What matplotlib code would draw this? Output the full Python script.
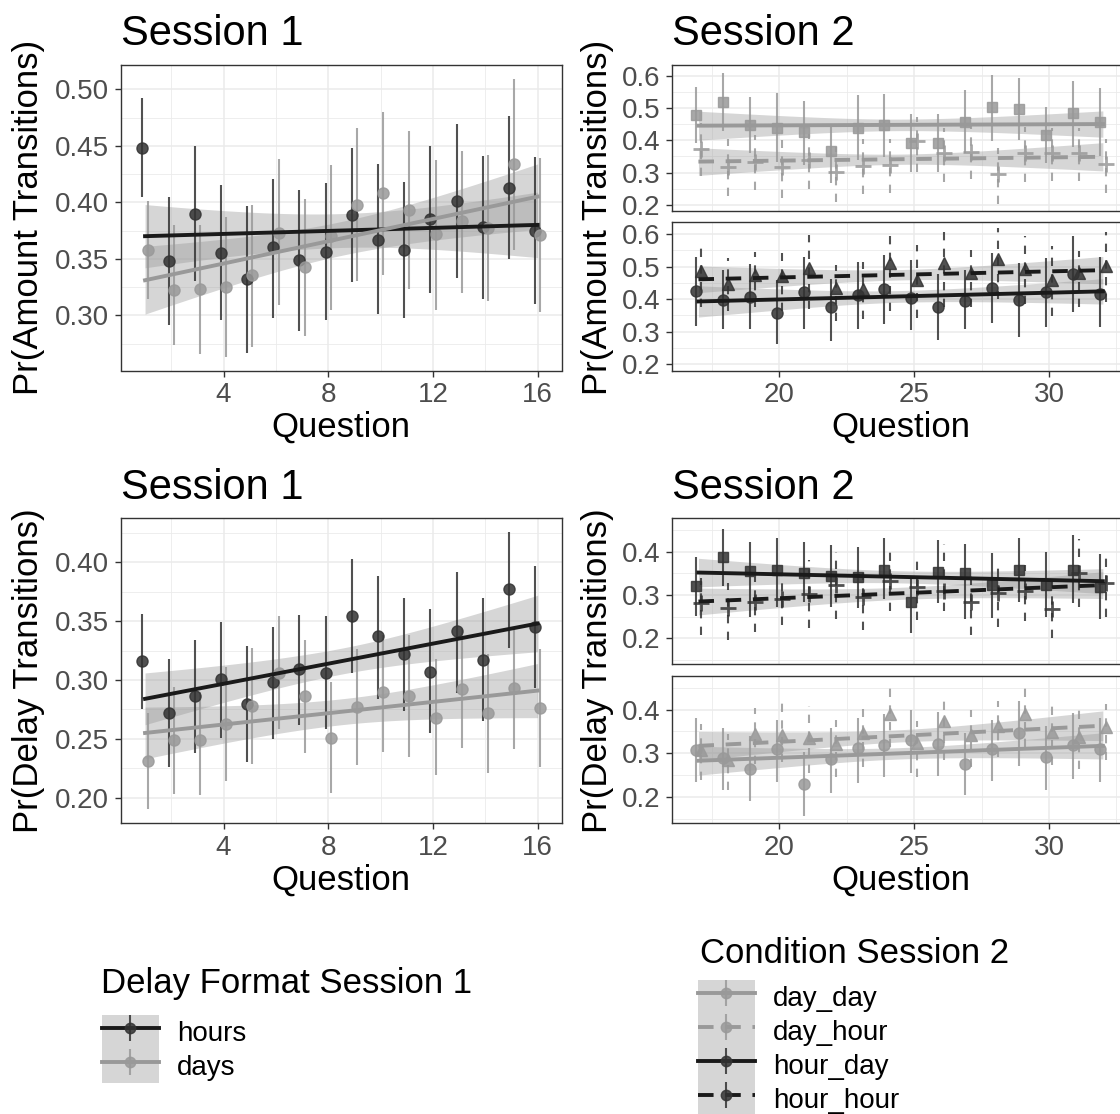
import numpy as np
import matplotlib
matplotlib.use('Agg')
import matplotlib.pyplot as plt
from matplotlib.lines import Line2D
from matplotlib.patches import Patch
from matplotlib.legend_handler import HandlerTuple
from matplotlib.ticker import MultipleLocator, FormatStrFormatter

plt.rcParams['font.family'] = ['Liberation Sans', 'DejaVu Sans']

# ---- data ----
q_s1 = [1, 2, 3, 4, 5, 6, 7, 8, 9, 10, 11, 12, 13, 14, 15, 16]
q_s2 = [17, 18, 19, 20, 21, 22, 23, 24, 25, 26, 27, 28, 29, 30, 31, 32]

# Session 1, amount transitions
amt1_hours = [0.448, 0.348, 0.390, 0.355, 0.332, 0.360, 0.349, 0.356, 0.389, 0.367, 0.358, 0.385, 0.401, 0.378, 0.413, 0.375]
amt1_hours_hi = [0.492, 0.405, 0.450, 0.415, 0.397, 0.421, 0.411, 0.417, 0.448, 0.434, 0.418, 0.450, 0.469, 0.441, 0.476, 0.440]
amt1_hours_lo = [0.405, 0.291, 0.330, 0.296, 0.267, 0.298, 0.286, 0.296, 0.329, 0.301, 0.298, 0.320, 0.333, 0.314, 0.350, 0.310]
amt1_days = [0.358, 0.322, 0.323, 0.325, 0.336, 0.373, 0.343, 0.370, 0.398, 0.408, 0.393, 0.372, 0.383, 0.377, 0.434, 0.371]
amt1_days_hi = [0.401, 0.380, 0.380, 0.387, 0.398, 0.438, 0.403, 0.433, 0.466, 0.480, 0.463, 0.437, 0.445, 0.442, 0.509, 0.439]
amt1_days_lo = [0.314, 0.274, 0.266, 0.263, 0.272, 0.309, 0.282, 0.305, 0.330, 0.336, 0.323, 0.305, 0.320, 0.313, 0.358, 0.303]
amt1_hours_fit = [0.370, 0.380]
amt1_hours_band = [0.028, 0.015, 0.029]
amt1_days_fit = [0.331, 0.405]
amt1_days_band = [0.030, 0.015, 0.029]

# Session 1, delay transitions
del1_hours = [0.316, 0.272, 0.286, 0.301, 0.280, 0.298, 0.309, 0.306, 0.354, 0.337, 0.322, 0.307, 0.342, 0.317, 0.377, 0.345]
del1_hours_hi = [0.356, 0.318, 0.334, 0.349, 0.329, 0.345, 0.355, 0.354, 0.403, 0.388, 0.370, 0.360, 0.392, 0.370, 0.426, 0.397]
del1_hours_lo = [0.275, 0.226, 0.238, 0.251, 0.230, 0.250, 0.262, 0.258, 0.306, 0.284, 0.274, 0.255, 0.289, 0.265, 0.327, 0.293]
del1_days = [0.231, 0.249, 0.249, 0.263, 0.278, 0.306, 0.286, 0.251, 0.277, 0.290, 0.286, 0.268, 0.292, 0.272, 0.293, 0.276]
del1_days_hi = [0.272, 0.294, 0.290, 0.311, 0.327, 0.354, 0.334, 0.298, 0.326, 0.338, 0.338, 0.318, 0.343, 0.322, 0.343, 0.326]
del1_days_lo = [0.190, 0.203, 0.202, 0.214, 0.229, 0.258, 0.238, 0.204, 0.228, 0.239, 0.235, 0.219, 0.242, 0.221, 0.241, 0.226]
del1_hours_fit = [0.284, 0.348]
del1_hours_band = [0.022, 0.011, 0.024]
del1_days_fit = [0.255, 0.291]
del1_days_band = [0.022, 0.011, 0.023]

# Session 2, amount transitions
amt2_dd = [0.479, 0.520, 0.448, 0.440, 0.427, 0.368, 0.440, 0.448, 0.393, 0.393, 0.458, 0.503, 0.498, 0.417, 0.486, 0.458]
amt2_dd_hi = [0.567, 0.611, 0.536, 0.549, 0.522, 0.442, 0.543, 0.546, 0.482, 0.482, 0.556, 0.604, 0.593, 0.503, 0.584, 0.562]
amt2_dd_lo = [0.391, 0.429, 0.362, 0.334, 0.323, 0.266, 0.339, 0.347, 0.303, 0.303, 0.360, 0.399, 0.401, 0.329, 0.380, 0.351]
amt2_dh = [0.373, 0.318, 0.334, 0.316, 0.339, 0.301, 0.320, 0.323, 0.399, 0.360, 0.365, 0.295, 0.360, 0.362, 0.362, 0.326]
amt2_dh_hi = [0.455, 0.403, 0.418, 0.400, 0.420, 0.380, 0.403, 0.405, 0.474, 0.440, 0.445, 0.375, 0.442, 0.440, 0.440, 0.405]
amt2_dh_lo = [0.290, 0.228, 0.246, 0.220, 0.250, 0.209, 0.232, 0.235, 0.303, 0.270, 0.280, 0.201, 0.270, 0.275, 0.275, 0.235]
amt2_hd = [0.424, 0.397, 0.408, 0.359, 0.421, 0.375, 0.414, 0.432, 0.404, 0.375, 0.395, 0.435, 0.397, 0.421, 0.476, 0.416]
amt2_hd_hi = [0.528, 0.489, 0.507, 0.458, 0.530, 0.463, 0.515, 0.536, 0.520, 0.478, 0.489, 0.541, 0.510, 0.525, 0.593, 0.530]
amt2_hd_lo = [0.319, 0.307, 0.307, 0.262, 0.307, 0.273, 0.309, 0.323, 0.304, 0.274, 0.307, 0.328, 0.284, 0.314, 0.362, 0.315]
amt2_hh = [0.487, 0.447, 0.473, 0.470, 0.497, 0.435, 0.432, 0.512, 0.460, 0.512, 0.481, 0.522, 0.494, 0.460, 0.481, 0.501]
amt2_hh_hi = [0.567, 0.525, 0.546, 0.541, 0.598, 0.504, 0.515, 0.608, 0.567, 0.611, 0.551, 0.619, 0.593, 0.562, 0.549, 0.605]
amt2_hh_lo = [0.375, 0.364, 0.375, 0.364, 0.369, 0.333, 0.338, 0.364, 0.343, 0.377, 0.375, 0.401, 0.385, 0.349, 0.375, 0.390]
amt2_dd_fit, amt2_dd_band = [0.446, 0.451], [0.045, 0.018, 0.041]
amt2_dh_fit, amt2_dh_band = [0.334, 0.349], [0.043, 0.016, 0.044]
amt2_hd_fit, amt2_hd_band = [0.393, 0.424], [0.048, 0.018, 0.039]
amt2_hh_fit, amt2_hh_band = [0.461, 0.489], [0.041, 0.016, 0.042]

# Session 2, delay transitions
del2_hd = [0.321, 0.387, 0.356, 0.359, 0.352, 0.344, 0.341, 0.359, 0.285, 0.354, 0.350, 0.323, 0.358, 0.323, 0.359, 0.318]
del2_hd_hi = [0.387, 0.452, 0.423, 0.431, 0.423, 0.415, 0.412, 0.433, 0.342, 0.427, 0.419, 0.398, 0.431, 0.400, 0.439, 0.396]
del2_hd_lo = [0.252, 0.320, 0.249, 0.272, 0.285, 0.273, 0.269, 0.290, 0.212, 0.282, 0.244, 0.246, 0.285, 0.249, 0.282, 0.244]
del2_hh = [0.282, 0.269, 0.285, 0.290, 0.302, 0.323, 0.295, 0.332, 0.318, 0.310, 0.285, 0.304, 0.310, 0.267, 0.350, 0.327]
del2_hh_hi = [0.339, 0.327, 0.342, 0.342, 0.381, 0.400, 0.350, 0.405, 0.396, 0.419, 0.354, 0.377, 0.369, 0.331, 0.429, 0.400]
del2_hh_lo = [0.208, 0.196, 0.215, 0.231, 0.223, 0.244, 0.218, 0.262, 0.242, 0.262, 0.208, 0.227, 0.239, 0.200, 0.273, 0.250]
del2_dd = [0.308, 0.289, 0.265, 0.309, 0.229, 0.286, 0.312, 0.319, 0.331, 0.322, 0.275, 0.309, 0.346, 0.291, 0.319, 0.310]
del2_dd_hi = [0.381, 0.358, 0.339, 0.377, 0.302, 0.358, 0.381, 0.391, 0.400, 0.394, 0.346, 0.377, 0.419, 0.363, 0.392, 0.381]
del2_dd_lo = [0.235, 0.217, 0.191, 0.235, 0.156, 0.209, 0.232, 0.246, 0.254, 0.248, 0.204, 0.237, 0.272, 0.215, 0.242, 0.235]
del2_dh = [0.308, 0.285, 0.345, 0.342, 0.335, 0.322, 0.346, 0.391, 0.323, 0.373, 0.342, 0.363, 0.389, 0.348, 0.337, 0.360]
del2_dh_hi = [0.368, 0.345, 0.404, 0.419, 0.408, 0.377, 0.402, 0.463, 0.375, 0.429, 0.399, 0.419, 0.462, 0.419, 0.412, 0.412]
del2_dh_lo = [0.239, 0.215, 0.275, 0.281, 0.254, 0.246, 0.268, 0.315, 0.246, 0.285, 0.269, 0.292, 0.315, 0.273, 0.265, 0.285]
del2_hd_fit, del2_hd_band = [0.352, 0.332], [0.033, 0.014, 0.029]
del2_hh_fit, del2_hh_band = [0.285, 0.323], [0.031, 0.014, 0.031]
del2_dd_fit, del2_dd_band = [0.283, 0.317], [0.033, 0.013, 0.030]
del2_dh_fit, del2_dh_band = [0.317, 0.363], [0.033, 0.014, 0.034]

legend1_labels = ['hours', 'days']
legend2_labels = ['day_day', 'day_hour', 'hour_day', 'hour_hour']

# ---- style ----
W, H = 1120, 1114
DARK = '#333333'
LIGHT = '#999999'
LINE_DARK = '#1a1a1a'
LINE_LIGHT = '#999999'
RIBBON = '#999999'
BAR_DASH = (0, (4, 4))
FIT_DASH = (0, (4, 3))
FIT_LW = 2.8
DODGE = 0.1

fig = plt.figure(figsize=(W / 100, H / 100), dpi=100)


def panel(l, t, r, b):
    return fig.add_axes([l / W, 1 - b / H, (r - l) / W, (b - t) / H])


def style(ax, xlim, ylim, xmaj, ymaj, yfmt, xlabels=True):
    ax.set_xlim(*xlim)
    ax.set_ylim(*ylim)
    ax.xaxis.set_major_locator(MultipleLocator(xmaj))
    ax.xaxis.set_minor_locator(MultipleLocator(xmaj / 2))
    ax.yaxis.set_major_locator(MultipleLocator(ymaj))
    ax.yaxis.set_minor_locator(MultipleLocator(ymaj / 2))
    ax.yaxis.set_major_formatter(FormatStrFormatter(yfmt))
    ax.set_axisbelow(True)
    ax.grid(True, which='major', color='#ebebeb', lw=1.1)
    ax.grid(True, which='minor', color='#ebebeb', lw=0.6)
    for s in ax.spines.values():
        s.set_color('#333333')
        s.set_linewidth(1.0)
    ax.tick_params(which='major', length=4.5, width=1, color='#333333',
                   labelcolor='#4d4d4d', labelsize=20, pad=4)
    ax.tick_params(which='minor', length=0)
    if xlabels:
        ax.set_xlabel('Question', fontsize=25, labelpad=2)
    else:
        ax.tick_params(axis='x', which='both', length=0, labelbottom=False)


def pointrange(ax, x, mean, lo, hi, color, marker, ms, bar_ls='solid'):
    ax.vlines(x, lo, hi, colors=color, lw=1.5, linestyles=bar_ls, alpha=0.85, zorder=3)
    mew = 2 if marker == '+' else 1
    ax.plot(x, mean, ls='none', marker=marker, ms=ms, color=color, mew=mew,
            alpha=0.85, zorder=4)


def smooth(ax, q, fit, band, color, ls='solid'):
    xs = np.linspace(q[0], q[-1], 80)
    mid = (q[0] + q[-1]) / 2
    t = (xs - mid) / (q[-1] - mid)
    centre = np.interp(xs, [q[0], q[-1]], fit)
    h_end = np.where(t < 0, band[0], band[2])
    h = np.sqrt(band[1] ** 2 + (h_end ** 2 - band[1] ** 2) * t ** 2)
    ax.fill_between(xs, centre - h, centre + h, color=RIBBON, alpha=0.4, lw=0, zorder=2)
    ax.plot([q[0], q[-1]], fit, color=color, lw=FIT_LW, ls=ls, zorder=5)


x1_left = np.array(q_s1) - DODGE
x1_right = np.array(q_s1) + DODGE
x2_left = np.array(q_s2) - DODGE
x2_right = np.array(q_s2) + DODGE

# ---- Session 1: amount ----
ax = panel(120.7, 64.7, 562, 370.5)
style(ax, (0.07, 16.93), (0.2511, 0.5218), 4, 0.05, '%.2f')
pointrange(ax, x1_left, amt1_hours, amt1_hours_lo, amt1_hours_hi, DARK, 'o', 8)
pointrange(ax, x1_right, amt1_days, amt1_days_lo, amt1_days_hi, LIGHT, 'o', 8)
smooth(ax, q_s1, amt1_hours_fit, amt1_hours_band, LINE_DARK)
smooth(ax, q_s1, amt1_days_fit, amt1_days_band, LINE_LIGHT)
ax.set_title('Session 1', loc='left', fontsize=30, pad=14)

# ---- Session 2: amount (two facets) ----
ax = panel(672.3, 64.7, 1129, 210.7)
style(ax, (16.03, 32.97), (0.181, 0.636), 5, 0.1, '%.1f', xlabels=False)
pointrange(ax, x2_left, amt2_dd, amt2_dd_lo, amt2_dd_hi, LIGHT, 's', 7.5)
pointrange(ax, x2_right, amt2_dh, amt2_dh_lo, amt2_dh_hi, LIGHT, '+', 12, BAR_DASH)
smooth(ax, q_s2, amt2_dd_fit, amt2_dd_band, LINE_LIGHT)
smooth(ax, q_s2, amt2_dh_fit, amt2_dh_band, LINE_LIGHT, FIT_DASH)
ax.set_title('Session 2', loc='left', fontsize=30, pad=14)

ax = panel(672.3, 222.3, 1129, 370.5)
style(ax, (16.03, 32.97), (0.181, 0.636), 5, 0.1, '%.1f')
pointrange(ax, x2_left, amt2_hd, amt2_hd_lo, amt2_hd_hi, DARK, 'o', 8)
pointrange(ax, x2_right, amt2_hh, amt2_hh_lo, amt2_hh_hi, DARK, '^', 8.5, BAR_DASH)
smooth(ax, q_s2, amt2_hd_fit, amt2_hd_band, LINE_DARK)
smooth(ax, q_s2, amt2_hh_fit, amt2_hh_band, LINE_DARK, FIT_DASH)

# ---- Session 1: delay ----
ax = panel(120.7, 518.3, 562, 823)
style(ax, (0.07, 16.93), (0.1785, 0.4374), 4, 0.05, '%.2f')
pointrange(ax, x1_left, del1_hours, del1_hours_lo, del1_hours_hi, DARK, 'o', 8)
pointrange(ax, x1_right, del1_days, del1_days_lo, del1_days_hi, LIGHT, 'o', 8)
smooth(ax, q_s1, del1_hours_fit, del1_hours_band, LINE_DARK)
smooth(ax, q_s1, del1_days_fit, del1_days_band, LINE_LIGHT)
ax.set_title('Session 1', loc='left', fontsize=30, pad=14)

# ---- Session 2: delay (two facets) ----
ax = panel(672.3, 518.3, 1129, 664)
style(ax, (16.03, 32.97), (0.1405, 0.4775), 5, 0.1, '%.1f', xlabels=False)
pointrange(ax, x2_left, del2_hd, del2_hd_lo, del2_hd_hi, DARK, 's', 7.5)
pointrange(ax, x2_right, del2_hh, del2_hh_lo, del2_hh_hi, DARK, '+', 12, BAR_DASH)
smooth(ax, q_s2, del2_hd_fit, del2_hd_band, LINE_DARK)
smooth(ax, q_s2, del2_hh_fit, del2_hh_band, LINE_DARK, FIT_DASH)
ax.set_title('Session 2', loc='left', fontsize=30, pad=14)

ax = panel(672.3, 675.7, 1129, 823)
style(ax, (16.03, 32.97), (0.1405, 0.4775), 5, 0.1, '%.1f')
pointrange(ax, x2_left, del2_dd, del2_dd_lo, del2_dd_hi, LIGHT, 'o', 8)
pointrange(ax, x2_right, del2_dh, del2_dh_lo, del2_dh_hi, LIGHT, '^', 8.5, BAR_DASH)
smooth(ax, q_s2, del2_dd_fit, del2_dd_band, LINE_LIGHT)
smooth(ax, q_s2, del2_dh_fit, del2_dh_band, LINE_LIGHT, FIT_DASH)

# ---- shared y labels ----
for xc, yc, txt in [(29, 217.6, 'Pr(Amount Transitions)'), (598, 217.6, 'Pr(Amount Transitions)'),
                    (29, 670.7, 'Pr(Delay Transitions)'), (598, 670.7, 'Pr(Delay Transitions)')]:
    fig.text(xc / W, 1 - yc / H, txt, rotation=90, ha='center', va='center', fontsize=25)


# ---- legends ----
def key(line_color, point_color, ls='solid'):
    return (Patch(facecolor=RIBBON, alpha=0.4, edgecolor='none'),
            Line2D([], [], ls='none', marker='|', ms=19, mew=1.5, color=point_color, alpha=0.85),
            Line2D([], [], color=line_color, lw=FIT_LW, ls=ls),
            Line2D([], [], ls='none', marker='o', ms=7.5, color=point_color, alpha=0.85))


leg_kw = dict(loc='upper left', frameon=False, fontsize=20, handlelength=2.05,
              handleheight=1.51, handletextpad=0.65, labelspacing=0, borderpad=0,
              borderaxespad=0, numpoints=1,
              handler_map={tuple: HandlerTuple(ndivide=1, pad=0)})

fig.text(101 / W, 1 - 993 / H, 'Delay Format Session 1', fontsize=25, va='baseline')
fig.legend([key(LINE_DARK, DARK), key(LINE_LIGHT, LIGHT)], legend1_labels,
           bbox_to_anchor=(102 / W, 1 - 1015 / H), **leg_kw)

fig.text(700 / W, 1 - 963 / H, 'Condition Session 2', fontsize=25, va='baseline')
fig.legend([key(LINE_LIGHT, LIGHT), key(LINE_LIGHT, LIGHT, FIT_DASH),
            key(LINE_DARK, DARK), key(LINE_DARK, DARK, FIT_DASH)], legend2_labels,
           bbox_to_anchor=(698 / W, 1 - 980 / H), **leg_kw)

fig.savefig('out.png', dpi=100)
